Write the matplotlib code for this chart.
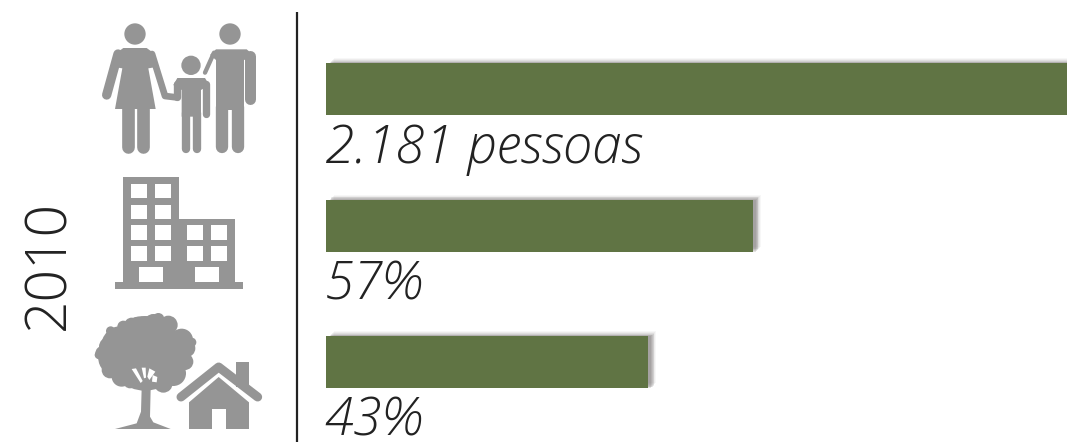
import matplotlib
matplotlib.use("Agg")
import matplotlib.pyplot as plt
from matplotlib.patches import Circle, Polygon, Rectangle
from matplotlib.transforms import Affine2D

# ---- data ----
year = "2010"
categories = ["Total", "Apartamentos", "Casas"]
bar_share = [100, 57, 43]
value_labels = ["2.181 pessoas", "57%", "43%"]

GREEN = "#607444"
GRAY = "#959595"
INK = "#222222"
W, H = 1067, 442
fig = plt.figure(figsize=(W / 100, H / 100), dpi=100, facecolor="white")

# ---- bars ----
ax = fig.add_axes([326 / W, 0, 741 / W, 1])
ax.set_xlim(0, 741 / 7.49)
pos = list(range(len(categories)))
step = 136.5
ax.set_ylim((H - 89) / step, -89 / step)
ax.axis("off")
bh = 52 / step
for d, a in [(7, .05), (6, .07), (5, .10), (4, .12), (3, .14), (2, .16), (1, .18)]:
    tr = ax.transData + Affine2D().translate(d * .8, d * .8 - 1)
    ax.barh(pos, bar_share, height=bh, left=0.3, color="#6a6464", alpha=a, lw=0,
            transform=tr, zorder=1)
ax.barh(pos, bar_share, height=bh, color=GREEN, lw=0, zorder=2)
for p, t in zip(pos, value_labels):
    ax.annotate(t, (0, p), xytext=(-1, -(bh / 2 * step + 48) * .72), textcoords="offset points",
                fontsize=38, style="italic", family="Open Sans", weight=300, color=INK,
                ha="left", va="baseline", annotation_clip=False)

# ---- overlay (pictograms, divider, year) ----
ov = fig.add_axes([0, 0, 1, 1], zorder=-1)
ov.set_xlim(0, W)
ov.set_ylim(H, 0)
ov.axis("off")
ov.plot([297, 297], [12, H], color=INK, lw=1.6, solid_capstyle="butt")
ov.text(50, 265, year, rotation=90, ha="center", va="center", fontsize=41,
        family="Open Sans", weight=300, color=INK)


def mapper(ox, oy):
    return lambda x, y: (ox + x / 3, oy + y / 3)


def line(m, pts, w, color=GRAY, cap="round"):
    xy = [m(*p) for p in pts]
    ov.plot(*zip(*xy), color=color, lw=w / 3 * .72, solid_capstyle=cap, solid_joinstyle="round")


def poly(m, pts, color=GRAY):
    ov.add_patch(Polygon([m(*p) for p in pts], closed=True, fc=color, ec="none"))


def circ(m, x, y, r, color=GRAY):
    ov.add_patch(Circle(m(x, y), r / 3, fc=color, ec="none"))


def rect(m, x0, y0, x1, y1, color=GRAY):
    a, b = m(x0, y0), m(x1, y1)
    ov.add_patch(Rectangle(a, b[0] - a[0], b[1] - a[1], fc=color, ec="none"))


# family
m = mapper(90, 10)
circ(m, 135, 72, 32)
poly(m, [(100, 114), (170, 114), (192, 130), (205, 170), (175, 175), (197, 297), (75, 297), (97, 175),
         (65, 170), (78, 130)])
line(m, [(84, 132), (50, 255)], 28)
line(m, [(186, 132), (225, 258), (258, 262)], 20)
line(m, [(114, 290), (114, 411)], 38)
line(m, [(159, 290), (159, 411)], 38)
circ(m, 420, 72, 32)
poly(m, [(378, 118), (470, 118), (496, 140), (462, 150), (462, 300), (378, 300), (378, 150), (360, 135)])
line(m, [(480, 138), (480, 266)], 33)
line(m, [(372, 128), (345, 188)], 13)
line(m, [(396, 290), (396, 411)], 37)
line(m, [(443, 290), (443, 411)], 37)
circ(m, 303, 166, 29)
poly(m, [(262, 204), (345, 204), (358, 225), (333, 240), (333, 320), (275, 320), (275, 240), (250, 225)])
line(m, [(261, 222), (261, 262)], 22)
line(m, [(348, 222), (348, 312)], 22)
line(m, [(287, 310), (287, 418)], 25)
line(m, [(320, 310), (320, 418)], 25)

# building
m = mapper(90, 170)
rect(m, 100, 20, 267, 340)
rect(m, 267, 147, 434, 340)
rect(m, 75, 336, 458, 356)
for x0, x1 in [(122, 171), (194, 243)]:
    for y0, y1 in [(42, 84), (104, 146), (166, 209), (229, 272)]:
        rect(m, x0, y0, x1, y1, "white")
for x0, x1 in [(291, 339), (362, 411)]:
    for y0, y1 in [(166, 209), (229, 272)]:
        rect(m, x0, y0, x1, y1, "white")
rect(m, 147, 292, 219, 336, "white")
rect(m, 315, 292, 387, 336, "white")

# tree + house
m = mapper(90, 305)
for x, y, r in [(165, 145, 112), (95, 125, 62), (75, 160, 50), (80, 95, 28), (55, 125, 28), (38, 145, 22),
                (145, 65, 30), (190, 55, 28), (235, 60, 28), (275, 105, 34), (290, 130, 26), (285, 170, 25),
                (60, 195, 25), (95, 215, 30), (250, 205, 38), (220, 235, 28), (125, 60, 22), (205, 42, 18),
                (100, 65, 18), (305, 112, 14), (26, 150, 12), (62, 78, 14), (120, 230, 20)]:
    circ(m, x, y, r)
poly(m, [(75, 372), (140, 355), (153, 320), (155, 250), (182, 250), (180, 335), (190, 352), (242, 372)])
for pts in [[(125, 192), (138, 190), (158, 228), (152, 234)], [(155, 188), (167, 188), (168, 218), (162, 220)],
            [(178, 190), (196, 200), (178, 225), (172, 215)], [(188, 210), (202, 216), (200, 232), (186, 230)]]:
    poly(m, pts, "white")
line(m, [(85, 248), (150, 264)], 5, "white")
rect(m, 437, 172, 477, 245)
line(m, [(273, 276), (386, 186), (503, 276)], 27)
poly(m, [(297, 292), (386, 216), (477, 292), (477, 372), (297, 372)])
rect(m, 365, 312, 408, 372, "white")

fig.savefig("out.png", dpi=100, facecolor="white")
